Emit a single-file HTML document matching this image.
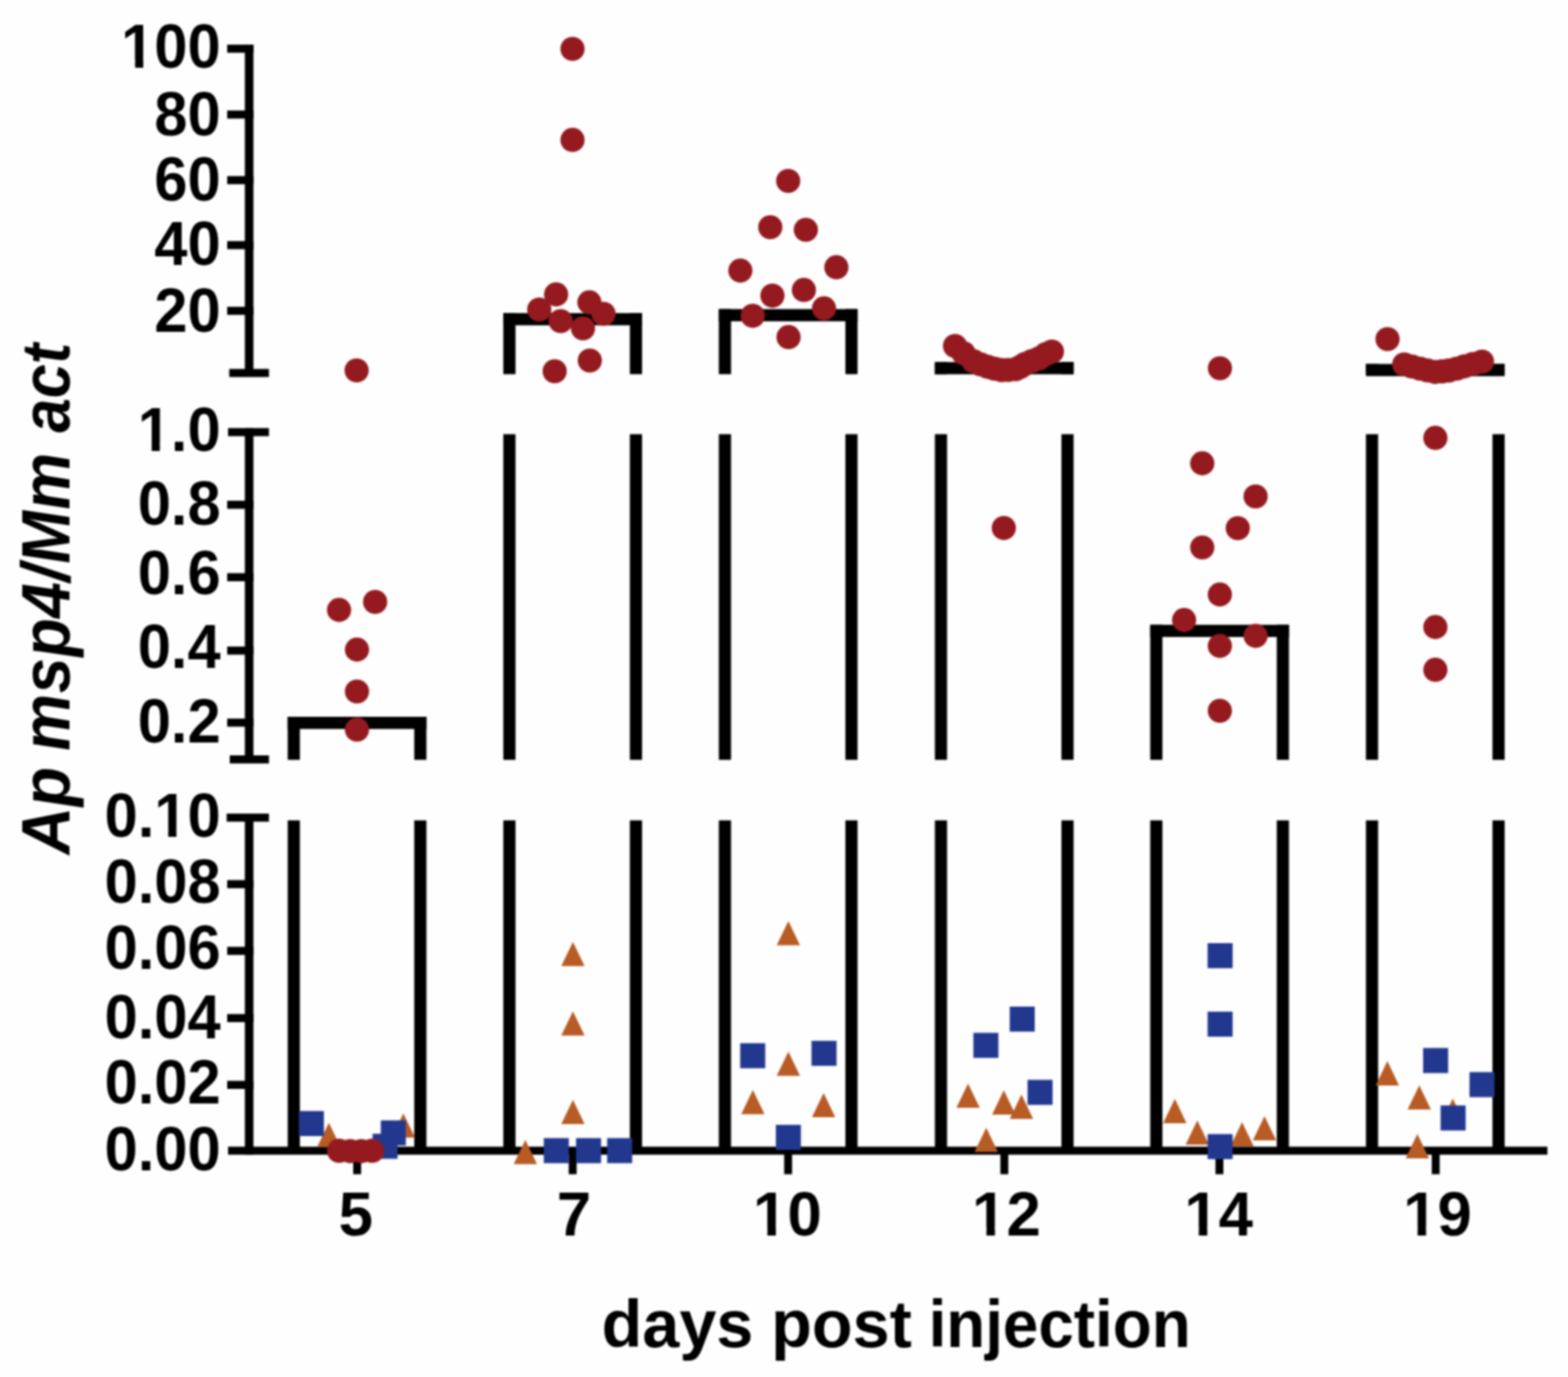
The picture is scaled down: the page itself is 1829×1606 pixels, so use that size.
<!DOCTYPE html>
<html><head><meta charset="utf-8"><title>Ap msp4/Mm act vs days post injection</title>
<style>html,body{margin:0;padding:0;background:#fefefe;} svg{display:block;filter:blur(1px);}</style></head>
<body>
<svg width="1829" height="1606" viewBox="0 0 1829 1606">
<rect x="0" y="0" width="1829" height="1606" fill="#fefefe"/>
<rect x="285.6" y="52.4" width="10.0" height="386.6" fill="#000"/>
<rect x="265.0" y="52.1" width="30.6" height="9.4" fill="#000"/>
<rect x="265.0" y="128.9" width="30.6" height="9.4" fill="#000"/>
<rect x="265.0" y="205.4" width="30.6" height="9.4" fill="#000"/>
<rect x="265.0" y="281.2" width="30.6" height="9.4" fill="#000"/>
<rect x="265.0" y="357.8" width="30.6" height="9.4" fill="#000"/>
<rect x="267.4" y="430.3" width="46.3" height="9.4" fill="#000"/>
<rect x="285.6" y="499.5" width="10.0" height="390.3" fill="#000"/>
<rect x="266.0" y="499.3" width="47.7" height="9.4" fill="#000"/>
<rect x="265.0" y="584.0" width="30.6" height="9.4" fill="#000"/>
<rect x="265.0" y="668.5" width="30.6" height="9.4" fill="#000"/>
<rect x="265.0" y="754.1" width="30.6" height="9.4" fill="#000"/>
<rect x="265.0" y="838.1" width="30.6" height="9.4" fill="#000"/>
<rect x="268.0" y="881.0" width="45.7" height="9.4" fill="#000"/>
<rect x="285.6" y="949.1" width="10.0" height="397.5" fill="#000"/>
<rect x="264.4" y="948.9" width="49.3" height="9.4" fill="#000"/>
<rect x="265.0" y="1026.5" width="30.6" height="9.4" fill="#000"/>
<rect x="265.0" y="1104.3" width="30.6" height="9.4" fill="#000"/>
<rect x="265.0" y="1182.7" width="30.6" height="9.4" fill="#000"/>
<rect x="265.0" y="1260.6" width="30.6" height="9.4" fill="#000"/>
<rect x="266.0" y="1337.4" width="1539.0" height="9.3" fill="#000"/>
<rect x="412.0" y="1342.0" width="9.2" height="27.5" fill="#000"/>
<rect x="663.4" y="1342.0" width="9.2" height="27.5" fill="#000"/>
<rect x="914.7" y="1342.0" width="9.2" height="27.5" fill="#000"/>
<rect x="1166.9" y="1342.0" width="9.2" height="27.5" fill="#000"/>
<rect x="1417.8" y="1342.0" width="9.2" height="27.5" fill="#000"/>
<rect x="1670.1" y="1342.0" width="9.2" height="27.5" fill="#000"/>
<rect x="335.6" y="836.0" width="14.2" height="50.2" fill="#000"/>
<rect x="483.2" y="836.0" width="14.2" height="50.2" fill="#000"/>
<rect x="335.6" y="956.8" width="14.2" height="385.2" fill="#000"/>
<rect x="483.2" y="956.8" width="14.2" height="385.2" fill="#000"/>
<rect x="335.6" y="836.0" width="161.8" height="14.2" fill="#000"/>
<rect x="587.1" y="365.2" width="14.2" height="71.2" fill="#000"/>
<rect x="734.7" y="365.2" width="14.2" height="71.2" fill="#000"/>
<rect x="587.1" y="506.4" width="14.2" height="379.8" fill="#000"/>
<rect x="734.7" y="506.4" width="14.2" height="379.8" fill="#000"/>
<rect x="587.1" y="956.8" width="14.2" height="385.2" fill="#000"/>
<rect x="734.7" y="956.8" width="14.2" height="385.2" fill="#000"/>
<rect x="587.1" y="365.2" width="161.8" height="14.2" fill="#000"/>
<rect x="838.5" y="360.5" width="14.2" height="75.9" fill="#000"/>
<rect x="986.1" y="360.5" width="14.2" height="75.9" fill="#000"/>
<rect x="838.5" y="506.4" width="14.2" height="379.8" fill="#000"/>
<rect x="986.1" y="506.4" width="14.2" height="379.8" fill="#000"/>
<rect x="838.5" y="956.8" width="14.2" height="385.2" fill="#000"/>
<rect x="986.1" y="956.8" width="14.2" height="385.2" fill="#000"/>
<rect x="838.5" y="360.5" width="161.8" height="14.2" fill="#000"/>
<rect x="1090.5" y="422.3" width="14.2" height="14.1" fill="#000"/>
<rect x="1238.1" y="422.3" width="14.2" height="14.1" fill="#000"/>
<rect x="1090.5" y="506.4" width="14.2" height="379.8" fill="#000"/>
<rect x="1238.1" y="506.4" width="14.2" height="379.8" fill="#000"/>
<rect x="1090.5" y="956.8" width="14.2" height="385.2" fill="#000"/>
<rect x="1238.1" y="956.8" width="14.2" height="385.2" fill="#000"/>
<rect x="1090.5" y="422.3" width="161.8" height="14.2" fill="#000"/>
<rect x="1341.7" y="728.7" width="14.2" height="157.5" fill="#000"/>
<rect x="1489.3" y="728.7" width="14.2" height="157.5" fill="#000"/>
<rect x="1341.7" y="956.8" width="14.2" height="385.2" fill="#000"/>
<rect x="1489.3" y="956.8" width="14.2" height="385.2" fill="#000"/>
<rect x="1341.7" y="728.7" width="161.8" height="14.2" fill="#000"/>
<rect x="1593.3" y="424.5" width="14.2" height="11.9" fill="#000"/>
<rect x="1740.9" y="424.5" width="14.2" height="11.9" fill="#000"/>
<rect x="1593.3" y="506.4" width="14.2" height="379.8" fill="#000"/>
<rect x="1740.9" y="506.4" width="14.2" height="379.8" fill="#000"/>
<rect x="1593.3" y="956.8" width="14.2" height="385.2" fill="#000"/>
<rect x="1740.9" y="956.8" width="14.2" height="385.2" fill="#000"/>
<rect x="1593.3" y="424.5" width="161.8" height="14.2" fill="#000"/>
<path d="M383.6,1309.5 L397.2,1337.8 L370.0,1337.8 Z" fill="#B85B24"/>
<path d="M470.5,1298.5 L484.1,1326.8 L456.9,1326.8 Z" fill="#B85B24"/>
<path d="M668.3,1098.5 L681.9,1126.8 L654.7,1126.8 Z" fill="#B85B24"/>
<path d="M668.3,1179.5 L681.9,1207.8 L654.7,1207.8 Z" fill="#B85B24"/>
<path d="M668.3,1282.8 L681.9,1311.1 L654.7,1311.1 Z" fill="#B85B24"/>
<path d="M612.8,1329.5 L626.4,1357.8 L599.2,1357.8 Z" fill="#B85B24"/>
<path d="M919.6,1074.3 L933.2,1102.6 L906.0,1102.6 Z" fill="#B85B24"/>
<path d="M919.6,1226.5 L933.2,1254.8 L906.0,1254.8 Z" fill="#B85B24"/>
<path d="M878.2,1271.3 L891.8,1299.6 L864.6,1299.6 Z" fill="#B85B24"/>
<path d="M960.7,1274.8 L974.3,1303.1 L947.1,1303.1 Z" fill="#B85B24"/>
<path d="M1129.2,1263.8 L1142.8,1292.1 L1115.6,1292.1 Z" fill="#B85B24"/>
<path d="M1170.9,1271.6 L1184.5,1299.9 L1157.3,1299.9 Z" fill="#B85B24"/>
<path d="M1191.5,1276.6 L1205.1,1304.9 L1177.9,1304.9 Z" fill="#B85B24"/>
<path d="M1150.4,1315.2 L1164.0,1343.5 L1136.8,1343.5 Z" fill="#B85B24"/>
<path d="M1370.4,1281.6 L1384.0,1309.9 L1356.8,1309.9 Z" fill="#B85B24"/>
<path d="M1396.6,1306.7 L1410.2,1335.0 L1383.0,1335.0 Z" fill="#B85B24"/>
<path d="M1448.8,1308.8 L1462.4,1337.1 L1435.2,1337.1 Z" fill="#B85B24"/>
<path d="M1475.0,1301.8 L1488.6,1330.1 L1461.4,1330.1 Z" fill="#B85B24"/>
<path d="M1618.3,1237.6 L1631.9,1265.9 L1604.7,1265.9 Z" fill="#B85B24"/>
<path d="M1655.5,1265.8 L1669.1,1294.1 L1641.9,1294.1 Z" fill="#B85B24"/>
<path d="M1694.6,1281.2 L1708.2,1309.5 L1681.0,1309.5 Z" fill="#B85B24"/>
<path d="M1653.3,1322.6 L1666.9,1350.9 L1639.7,1350.9 Z" fill="#B85B24"/>
<rect x="348.6" y="1295.8" width="29.2" height="29.2" fill="#22388F"/>
<rect x="444.2" y="1306.7" width="29.2" height="29.2" fill="#22388F"/>
<rect x="434.6" y="1322.3" width="29.2" height="29.2" fill="#22388F"/>
<rect x="634.3" y="1327.4" width="29.2" height="29.2" fill="#22388F"/>
<rect x="671.9" y="1327.4" width="29.2" height="29.2" fill="#22388F"/>
<rect x="708.2" y="1327.4" width="29.2" height="29.2" fill="#22388F"/>
<rect x="863.4" y="1216.7" width="29.2" height="29.2" fill="#22388F"/>
<rect x="946.6" y="1213.9" width="29.2" height="29.2" fill="#22388F"/>
<rect x="905.0" y="1311.9" width="29.2" height="29.2" fill="#22388F"/>
<rect x="1177.8" y="1174.0" width="29.2" height="29.2" fill="#22388F"/>
<rect x="1135.4" y="1204.6" width="29.2" height="29.2" fill="#22388F"/>
<rect x="1198.6" y="1259.4" width="29.2" height="29.2" fill="#22388F"/>
<rect x="1408.6" y="1100.0" width="29.2" height="29.2" fill="#22388F"/>
<rect x="1408.6" y="1179.9" width="29.2" height="29.2" fill="#22388F"/>
<rect x="1408.6" y="1322.7" width="29.2" height="29.2" fill="#22388F"/>
<rect x="1660.0" y="1222.3" width="29.2" height="29.2" fill="#22388F"/>
<rect x="1714.1" y="1250.4" width="29.2" height="29.2" fill="#22388F"/>
<rect x="1680.4" y="1289.3" width="29.2" height="29.2" fill="#22388F"/>
<circle cx="416.0" cy="432.0" r="14.1" fill="#941A1F"/>
<circle cx="395.5" cy="711.4" r="14.1" fill="#941A1F"/>
<circle cx="437.6" cy="702.0" r="14.1" fill="#941A1F"/>
<circle cx="416.4" cy="757.6" r="14.1" fill="#941A1F"/>
<circle cx="416.4" cy="806.5" r="14.1" fill="#941A1F"/>
<circle cx="416.4" cy="851.0" r="14.1" fill="#941A1F"/>
<circle cx="395.5" cy="1342.2" r="14.1" fill="#941A1F"/>
<circle cx="408.5" cy="1342.6" r="14.1" fill="#941A1F"/>
<circle cx="421.5" cy="1342.6" r="14.1" fill="#941A1F"/>
<circle cx="434.0" cy="1342.2" r="14.1" fill="#941A1F"/>
<circle cx="667.8" cy="57.0" r="14.1" fill="#941A1F"/>
<circle cx="667.8" cy="163.2" r="14.1" fill="#941A1F"/>
<circle cx="629.0" cy="361.0" r="14.1" fill="#941A1F"/>
<circle cx="648.7" cy="343.4" r="14.1" fill="#941A1F"/>
<circle cx="654.0" cy="374.5" r="14.1" fill="#941A1F"/>
<circle cx="680.0" cy="383.0" r="14.1" fill="#941A1F"/>
<circle cx="687.5" cy="352.6" r="14.1" fill="#941A1F"/>
<circle cx="704.0" cy="366.0" r="14.1" fill="#941A1F"/>
<circle cx="647.0" cy="433.0" r="14.1" fill="#941A1F"/>
<circle cx="688.0" cy="420.5" r="14.1" fill="#941A1F"/>
<circle cx="919.4" cy="211.0" r="14.1" fill="#941A1F"/>
<circle cx="898.5" cy="265.0" r="14.1" fill="#941A1F"/>
<circle cx="940.0" cy="268.0" r="14.1" fill="#941A1F"/>
<circle cx="863.6" cy="315.6" r="14.1" fill="#941A1F"/>
<circle cx="975.6" cy="311.7" r="14.1" fill="#941A1F"/>
<circle cx="901.0" cy="344.8" r="14.1" fill="#941A1F"/>
<circle cx="937.7" cy="338.2" r="14.1" fill="#941A1F"/>
<circle cx="878.0" cy="368.3" r="14.1" fill="#941A1F"/>
<circle cx="961.2" cy="359.6" r="14.1" fill="#941A1F"/>
<circle cx="919.8" cy="393.2" r="14.1" fill="#941A1F"/>
<circle cx="1114.0" cy="403.5" r="14.1" fill="#941A1F"/>
<circle cx="1124.0" cy="412.0" r="14.1" fill="#941A1F"/>
<circle cx="1135.6" cy="421.3" r="14.1" fill="#941A1F"/>
<circle cx="1144.0" cy="425.0" r="14.1" fill="#941A1F"/>
<circle cx="1152.0" cy="427.8" r="14.1" fill="#941A1F"/>
<circle cx="1160.0" cy="430.0" r="14.1" fill="#941A1F"/>
<circle cx="1168.4" cy="431.7" r="14.1" fill="#941A1F"/>
<circle cx="1176.0" cy="431.5" r="14.1" fill="#941A1F"/>
<circle cx="1184.8" cy="430.6" r="14.1" fill="#941A1F"/>
<circle cx="1190.0" cy="428.0" r="14.1" fill="#941A1F"/>
<circle cx="1195.7" cy="424.5" r="14.1" fill="#941A1F"/>
<circle cx="1204.0" cy="421.0" r="14.1" fill="#941A1F"/>
<circle cx="1212.0" cy="418.0" r="14.1" fill="#941A1F"/>
<circle cx="1220.0" cy="413.0" r="14.1" fill="#941A1F"/>
<circle cx="1227.0" cy="410.0" r="14.1" fill="#941A1F"/>
<circle cx="1170.9" cy="615.8" r="14.1" fill="#941A1F"/>
<circle cx="1423.0" cy="429.5" r="14.1" fill="#941A1F"/>
<circle cx="1402.4" cy="540.4" r="14.1" fill="#941A1F"/>
<circle cx="1464.6" cy="579.0" r="14.1" fill="#941A1F"/>
<circle cx="1443.8" cy="616.0" r="14.1" fill="#941A1F"/>
<circle cx="1402.4" cy="638.5" r="14.1" fill="#941A1F"/>
<circle cx="1422.9" cy="693.4" r="14.1" fill="#941A1F"/>
<circle cx="1381.2" cy="723.1" r="14.1" fill="#941A1F"/>
<circle cx="1464.6" cy="741.6" r="14.1" fill="#941A1F"/>
<circle cx="1422.9" cy="753.4" r="14.1" fill="#941A1F"/>
<circle cx="1422.9" cy="829.0" r="14.1" fill="#941A1F"/>
<circle cx="1618.5" cy="395.5" r="14.1" fill="#941A1F"/>
<circle cx="1638.0" cy="425.0" r="14.1" fill="#941A1F"/>
<circle cx="1647.0" cy="427.5" r="14.1" fill="#941A1F"/>
<circle cx="1656.5" cy="430.0" r="14.1" fill="#941A1F"/>
<circle cx="1665.0" cy="432.0" r="14.1" fill="#941A1F"/>
<circle cx="1674.0" cy="433.8" r="14.1" fill="#941A1F"/>
<circle cx="1682.0" cy="433.2" r="14.1" fill="#941A1F"/>
<circle cx="1690.0" cy="432.2" r="14.1" fill="#941A1F"/>
<circle cx="1699.0" cy="430.0" r="14.1" fill="#941A1F"/>
<circle cx="1708.0" cy="427.3" r="14.1" fill="#941A1F"/>
<circle cx="1718.0" cy="424.5" r="14.1" fill="#941A1F"/>
<circle cx="1728.7" cy="421.8" r="14.1" fill="#941A1F"/>
<circle cx="1674.3" cy="510.7" r="14.1" fill="#941A1F"/>
<circle cx="1674.3" cy="731.4" r="14.1" fill="#941A1F"/>
<circle cx="1674.3" cy="781.2" r="14.1" fill="#941A1F"/>
<g transform="translate(257.30,78.90) scale(0.965,1)"><text x="0" y="0" text-anchor="end" font-family="'Liberation Sans', Arial, sans-serif" font-weight="bold" font-size="72">100</text><rect x="-116.79" y="-8.85" width="13.47" height="10.35" fill="#fefefe"/><rect x="-93.45" y="-8.85" width="12.56" height="10.35" fill="#fefefe"/></g>
<g transform="translate(257.30,157.60) scale(0.965,1)"><text x="0" y="0" text-anchor="end" font-family="'Liberation Sans', Arial, sans-serif" font-weight="bold" font-size="72">80</text></g>
<g transform="translate(257.30,233.70) scale(0.965,1)"><text x="0" y="0" text-anchor="end" font-family="'Liberation Sans', Arial, sans-serif" font-weight="bold" font-size="72">60</text></g>
<g transform="translate(257.30,309.10) scale(0.965,1)"><text x="0" y="0" text-anchor="end" font-family="'Liberation Sans', Arial, sans-serif" font-weight="bold" font-size="72">40</text></g>
<g transform="translate(257.30,387.10) scale(0.965,1)"><text x="0" y="0" text-anchor="end" font-family="'Liberation Sans', Arial, sans-serif" font-weight="bold" font-size="72">20</text></g>
<g transform="translate(257.30,526.20) scale(0.965,1)"><text x="0" y="0" text-anchor="end" font-family="'Liberation Sans', Arial, sans-serif" font-weight="bold" font-size="72">1.0</text><rect x="-96.75" y="-8.85" width="13.47" height="10.35" fill="#fefefe"/><rect x="-73.41" y="-8.85" width="12.56" height="10.35" fill="#fefefe"/></g>
<g transform="translate(257.30,612.10) scale(0.965,1)"><text x="0" y="0" text-anchor="end" font-family="'Liberation Sans', Arial, sans-serif" font-weight="bold" font-size="72">0.8</text></g>
<g transform="translate(257.30,693.00) scale(0.965,1)"><text x="0" y="0" text-anchor="end" font-family="'Liberation Sans', Arial, sans-serif" font-weight="bold" font-size="72">0.6</text></g>
<g transform="translate(257.30,779.10) scale(0.965,1)"><text x="0" y="0" text-anchor="end" font-family="'Liberation Sans', Arial, sans-serif" font-weight="bold" font-size="72">0.4</text></g>
<g transform="translate(257.30,865.80) scale(0.965,1)"><text x="0" y="0" text-anchor="end" font-family="'Liberation Sans', Arial, sans-serif" font-weight="bold" font-size="72">0.2</text></g>
<g transform="translate(257.30,976.20) scale(0.965,1)"><text x="0" y="0" text-anchor="end" font-family="'Liberation Sans', Arial, sans-serif" font-weight="bold" font-size="72">0.10</text><rect x="-76.75" y="-8.85" width="13.47" height="10.35" fill="#fefefe"/><rect x="-53.40" y="-8.85" width="12.56" height="10.35" fill="#fefefe"/></g>
<g transform="translate(257.30,1053.00) scale(0.965,1)"><text x="0" y="0" text-anchor="end" font-family="'Liberation Sans', Arial, sans-serif" font-weight="bold" font-size="72">0.08</text></g>
<g transform="translate(257.30,1129.80) scale(0.965,1)"><text x="0" y="0" text-anchor="end" font-family="'Liberation Sans', Arial, sans-serif" font-weight="bold" font-size="72">0.06</text></g>
<g transform="translate(257.30,1210.90) scale(0.965,1)"><text x="0" y="0" text-anchor="end" font-family="'Liberation Sans', Arial, sans-serif" font-weight="bold" font-size="72">0.04</text></g>
<g transform="translate(257.30,1286.90) scale(0.965,1)"><text x="0" y="0" text-anchor="end" font-family="'Liberation Sans', Arial, sans-serif" font-weight="bold" font-size="72">0.02</text></g>
<g transform="translate(257.30,1364.70) scale(0.965,1)"><text x="0" y="0" text-anchor="end" font-family="'Liberation Sans', Arial, sans-serif" font-weight="bold" font-size="72">0.00</text></g>
<g transform="translate(415.10,1440.50) scale(1.0,1)"><text x="0" y="0" text-anchor="middle" font-family="'Liberation Sans', Arial, sans-serif" font-weight="bold" font-size="72">5</text></g>
<g transform="translate(669.50,1440.50) scale(1.0,1)"><text x="0" y="0" text-anchor="middle" font-family="'Liberation Sans', Arial, sans-serif" font-weight="bold" font-size="72">7</text></g>
<g transform="translate(918.40,1440.50) scale(1.0,1)"><text x="0" y="0" text-anchor="middle" font-family="'Liberation Sans', Arial, sans-serif" font-weight="bold" font-size="72">10</text><rect x="-36.71" y="-8.85" width="13.47" height="10.35" fill="#fefefe"/><rect x="-13.36" y="-8.85" width="12.56" height="10.35" fill="#fefefe"/></g>
<g transform="translate(1173.90,1440.50) scale(1.0,1)"><text x="0" y="0" text-anchor="middle" font-family="'Liberation Sans', Arial, sans-serif" font-weight="bold" font-size="72">12</text><rect x="-36.71" y="-8.85" width="13.47" height="10.35" fill="#fefefe"/><rect x="-13.36" y="-8.85" width="12.56" height="10.35" fill="#fefefe"/></g>
<g transform="translate(1421.60,1440.50) scale(1.0,1)"><text x="0" y="0" text-anchor="middle" font-family="'Liberation Sans', Arial, sans-serif" font-weight="bold" font-size="72">14</text><rect x="-36.71" y="-8.85" width="13.47" height="10.35" fill="#fefefe"/><rect x="-13.36" y="-8.85" width="12.56" height="10.35" fill="#fefefe"/></g>
<g transform="translate(1676.80,1440.50) scale(1.0,1)"><text x="0" y="0" text-anchor="middle" font-family="'Liberation Sans', Arial, sans-serif" font-weight="bold" font-size="72">19</text><rect x="-36.71" y="-8.85" width="13.47" height="10.35" fill="#fefefe"/><rect x="-13.36" y="-8.85" width="12.56" height="10.35" fill="#fefefe"/></g>
<text transform="translate(790.25,1571) scale(1.0024,1)" text-anchor="middle" font-family="'Liberation Sans', Arial, sans-serif" font-weight="bold" font-size="77.5">days</text>
<text transform="translate(981.50,1571) scale(1.0026,1)" text-anchor="middle" font-family="'Liberation Sans', Arial, sans-serif" font-weight="bold" font-size="77.5">post</text>
<text transform="translate(1236.00,1571) scale(0.9597,1)" text-anchor="middle" font-family="'Liberation Sans', Arial, sans-serif" font-weight="bold" font-size="77.5">injection</text>
<text transform="translate(80.7,945.00) rotate(-90) scale(0.9653,1) skewX(2)" text-anchor="middle" font-family="'Liberation Sans', Arial, sans-serif" font-weight="bold" font-style="italic" font-size="80">Ap</text>
<text transform="translate(80.7,701.25) rotate(-90) scale(0.9443,1) skewX(2)" text-anchor="middle" font-family="'Liberation Sans', Arial, sans-serif" font-weight="bold" font-style="italic" font-size="80">msp4/Mm</text>
<text transform="translate(80.7,452.00) rotate(-90) scale(0.9028,1) skewX(2)" text-anchor="middle" font-family="'Liberation Sans', Arial, sans-serif" font-weight="bold" font-style="italic" font-size="80">act</text>
</svg>
</body></html>
